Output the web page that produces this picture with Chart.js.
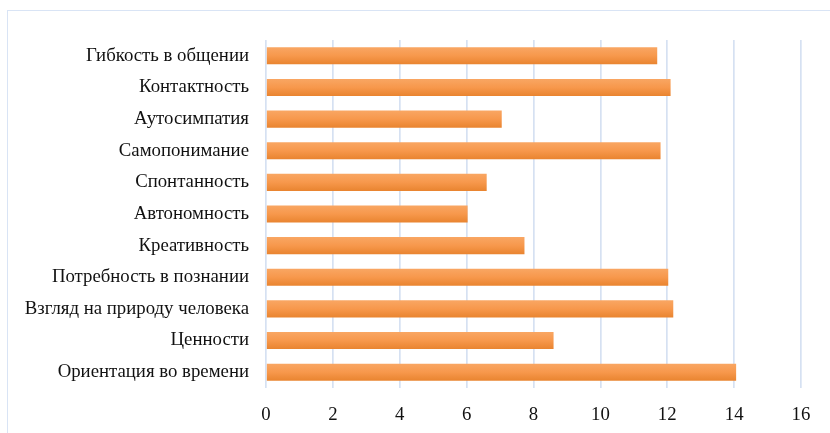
<!DOCTYPE html>
<html>
<head>
<meta charset="utf-8">
<script src="https://cdn.jsdelivr.net/npm/chart.js@4"></script>
<style>
  html, body { margin: 0; padding: 0; background: #fff; }
  #wrap { position: relative; width: 830px; height: 433px; overflow: hidden; }
  #frame { position: absolute; left: 7px; top: 10px; width: 900px; height: 500px; border: 1px solid #d9e4f5; }
  canvas { position: absolute; left: 0; top: 0; }
</style>
</head>
<body>
<div id="wrap">
  <div id="frame"></div>
  <canvas id="chart" width="830" height="433"></canvas>
</div>
<script>
// категории сверху вниз
const categories = [
  'Гибкость в общении',
  'Контактность',
  'Аутосимпатия',
  'Самопонимание',
  'Спонтанность',
  'Автономность',
  'Креативность',
  'Потребность в познании',
  'Взгляд на природу человека',
  'Ценности',
  'Ориентация во времени'
];
const values = [11.7, 12.1, 7.05, 11.8, 6.6, 6.03, 7.73, 12.03, 12.18, 8.6, 14.06];
const xTicks = [0, 2, 4, 6, 8, 10, 12, 14, 16];

// вертикальный градиент для каждой полосы
function barFill(ctx) {
  const chart = ctx.chart;
  const y = chart.scales.y;
  if (!y || ctx.dataIndex === undefined) return '#f7964a';
  const c = y.getPixelForValue(ctx.dataIndex);
  if (!isFinite(c)) return '#f7964a';
  const h = 9;
  const g = chart.ctx.createLinearGradient(0, c - h, 0, c + h);
  g.addColorStop(0, '#f9a764');
  g.addColorStop(0.5, '#f7984c');
  g.addColorStop(1, '#e8832e');
  return g;
}

new Chart(document.getElementById('chart').getContext('2d'), {
  type: 'bar',
  data: {
    labels: categories,
    datasets: [{
      data: values,
      backgroundColor: barFill,
      borderWidth: 0,
      barPercentage: 0.54,
      categoryPercentage: 1
    }]
  },
  options: {
    indexAxis: 'y',
    responsive: false,
    animation: false,
    layout: { padding: { top: 40, right: 29, bottom: 0, left: 0 } },
    plugins: { legend: { display: false }, tooltip: { enabled: false } },
    scales: {
      x: {
        min: 0,
        max: 16,
        afterBuildTicks: s => { s.ticks = xTicks.map(v => ({ value: v })); },
        afterFit: s => { s.height = 45; },
        grid: { color: '#d6e1f2', lineWidth: 1.7, drawTicks: false },
        border: { display: false },
        ticks: {
          padding: 16,
          color: '#111',
          font: { family: 'Liberation Serif', size: 18.8 }
        }
      },
      y: {
        afterFit: s => { s.width = 266; },
        grid: { display: false, drawTicks: false },
        border: { display: false },
        ticks: {
          padding: 17,
          color: '#111',
          font: { family: 'Liberation Serif', size: 18.8 }
        }
      }
    }
  }
});
</script>
</body>
</html>
